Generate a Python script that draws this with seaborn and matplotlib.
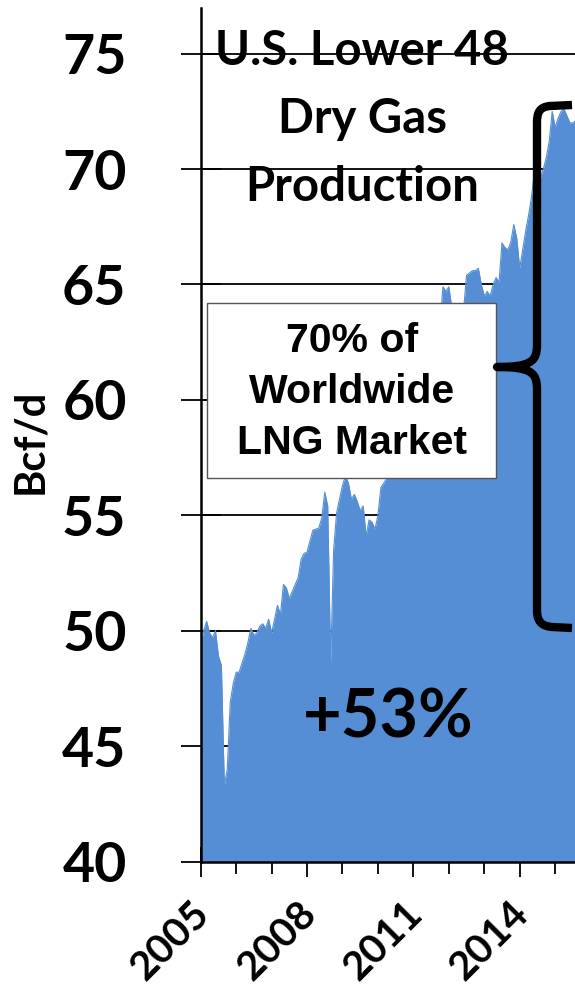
import numpy as np
import pandas as pd
import matplotlib
matplotlib.use("Agg")
import matplotlib.pyplot as plt
import matplotlib.transforms as mtransforms
from matplotlib.patches import Rectangle, PathPatch
from matplotlib.path import Path
from matplotlib.ticker import FixedLocator, MultipleLocator
import seaborn as sns

# ---------------- data (monthly, Jan 2005 onward), Bcf/d ----------------
start_year = 2005
production = [
    49.3, 50.0, 50.4, 49.9, 49.7, 50.0, 48.9, 48.5, 43.3, 44.0, 46.9, 47.7,   # 2005
    48.2, 48.2, 48.6, 49.0, 49.5, 50.1, 49.8, 49.9, 50.2, 50.3, 50.1, 50.5,   # 2006
    49.9, 50.5, 51.1, 50.7, 52.0, 51.85, 51.4, 51.7, 52.0, 52.3, 53.1, 53.35, # 2007
    53.4, 53.9, 54.36, 54.4, 54.45, 54.9, 56.0, 55.4, 48.6, 53.5, 55.1, 55.7, # 2008
    56.3, 56.7, 56.4, 55.7, 55.9, 55.6, 55.2, 55.4, 54.1, 54.8, 54.7, 54.4,   # 2009
    55.0, 56.2, 56.4, 56.6, 56.9, 57.2, 57.5, 57.3, 57.9, 58.2, 58.0, 58.6,   # 2010
    58.1, 57.6, 59.3, 59.8, 60.2, 60.5, 61.0, 61.6, 62.3, 63.2, 64.9, 64.7,   # 2011
    64.9, 64.0, 63.8, 63.6, 63.5, 63.9, 65.4, 65.5, 65.6, 65.6, 65.7, 65.0,   # 2012
    64.5, 64.7, 64.5, 65.0, 65.3, 65.1, 66.8, 66.6, 66.5, 66.85, 67.6, 67.0,  # 2013
    65.7, 66.5, 67.3, 68.0, 68.8, 69.9, 70.0, 69.6, 70.0, 70.5, 71.2, 72.5,   # 2014
    71.8, 72.2, 72.5, 72.6, 72.3, 72.0, 72.0, 72.1,                           # 2015
]
year_labels = ["2005", "2008", "2011", "2014"]
label_years = [2005, 2008, 2011, 2014]
y_ticks = [40, 45, 50, 55, 60, 65, 70, 75]
title_text = "U.S. Lower 48\nDry Gas\nProduction"
box_text = "70% of\nWorldwide\nLNG Market"
growth_text = "+53%"
y_label = "Bcf/d"

df = pd.DataFrame({
    "t": start_year + np.arange(len(production)) / 12.0,
    "v": production,
})

# ---------------- style ----------------
sns.set_style("white")
plt.rcParams["font.family"] = ["Lato", "DejaVu Sans"]
plt.rcParams["text.color"] = "black"
plt.rcParams["xtick.color"] = "black"
plt.rcParams["ytick.color"] = "black"
plt.rcParams["axes.labelcolor"] = "black"

W, H = 575, 992
fig = plt.figure(figsize=(W / 100, H / 100), dpi=100)

def fx(px):
    return px / W

def fy(py):
    return 1 - py / H

ax_left, ax_right = 200.7, 575.0
ax_top, ax_bottom = 7.5, 861.5
ax = fig.add_axes([fx(ax_left), fy(ax_bottom), (ax_right - ax_left) / W, (ax_bottom - ax_top) / H])

fill_color = "#558ed5"
sns.lineplot(data=df, x="t", y="v", ax=ax, color=fill_color, linewidth=0.8)
ax.fill_between(df["t"], 40, df["v"], color=fill_color, linewidth=0, zorder=2)

ax.set_xlim(2005, 2015.56)
ax.set_ylim(40, 77)
ax.set_xlabel("")
ax.set_ylabel("")

# grid
ax.set_axisbelow(True)
ax.yaxis.set_major_locator(FixedLocator(y_ticks))
ax.grid(axis="y", color="black", linewidth=1.3)
ax.grid(axis="x", visible=False)

# spines
for s in ["top", "right"]:
    ax.spines[s].set_visible(False)
for s in ["left", "bottom"]:
    ax.spines[s].set_color("black")
    ax.spines[s].set_linewidth(1.8)
    ax.spines[s].set_zorder(5)

# y ticks
ax.tick_params(axis="y", which="major", left=True, direction="inout", length=28.8, width=1.3,
               color="black", pad=39, labelsize=40, labelcolor="black")
ax.set_yticklabels([str(v) for v in y_ticks], fontweight="bold")

# x ticks
ax.xaxis.set_major_locator(FixedLocator(label_years))
ax.xaxis.set_minor_locator(MultipleLocator(1))
ax.tick_params(axis="x", which="major", bottom=True, direction="inout", length=22, width=1.3,
               color="black", pad=22, labelsize=29, labelcolor="black")
ax.tick_params(axis="x", which="minor", bottom=True, direction="inout", length=17, width=1.3,
               color="black")
ax.set_xticks(label_years)
ax.set_xticklabels(year_labels, fontweight="bold", rotation=45, ha="right",
                   va="center", rotation_mode="anchor")
shift = mtransforms.ScaledTranslation(3 / 100, 0, fig.dpi_scale_trans)
for lbl in ax.get_xticklabels():
    lbl.set_transform(lbl.get_transform() + shift)

# y label
fig.text(fx(30), fy(441), y_label, rotation=90, ha="center", va="center",
         fontsize=30, fontweight="bold")

# title
fig.text(fx(362), fy(119), title_text, ha="center", va="center", fontsize=34,
         fontweight="bold", linespacing=1.68)

# growth text
fig.text(fx(388), fy(718), growth_text, ha="center", va="center", fontsize=48,
         fontweight="bold")

# box
box = Rectangle((fx(207), fy(478)), fx(496) - fx(207), fy(303) - fy(478),
                transform=fig.transFigure, facecolor="white", edgecolor="#555555",
                linewidth=1.0, zorder=10)
fig.add_artist(box)
fig.text(fx(352), fy(392), box_text, ha="center", va="center", fontsize=29.5,
         fontweight="bold", family=["Liberation Sans", "DejaVu Sans"],
         linespacing=1.42, zorder=11)

# curly bracket
pts = [(572, 105), (550, 106), (539, 107), (537, 113), (537, 123),
       (537, 345), (537, 362), (530, 367), (497, 367),
       (530, 367), (537, 372), (537, 389),
       (537, 610), (537, 621), (541, 626), (552, 627), (572, 628)]
codes = [Path.MOVETO, Path.LINETO, Path.CURVE4, Path.CURVE4, Path.CURVE4,
         Path.LINETO, Path.CURVE4, Path.CURVE4, Path.CURVE4,
         Path.CURVE4, Path.CURVE4, Path.CURVE4,
         Path.LINETO, Path.CURVE4, Path.CURVE4, Path.CURVE4, Path.LINETO]
path = Path([(fx(x), fy(y)) for x, y in pts], codes)
fig.add_artist(PathPatch(path, transform=fig.transFigure, facecolor="none",
                         edgecolor="black", linewidth=6, capstyle="butt",
                         joinstyle="round", zorder=12))

fig.savefig("out.png", dpi=100)
